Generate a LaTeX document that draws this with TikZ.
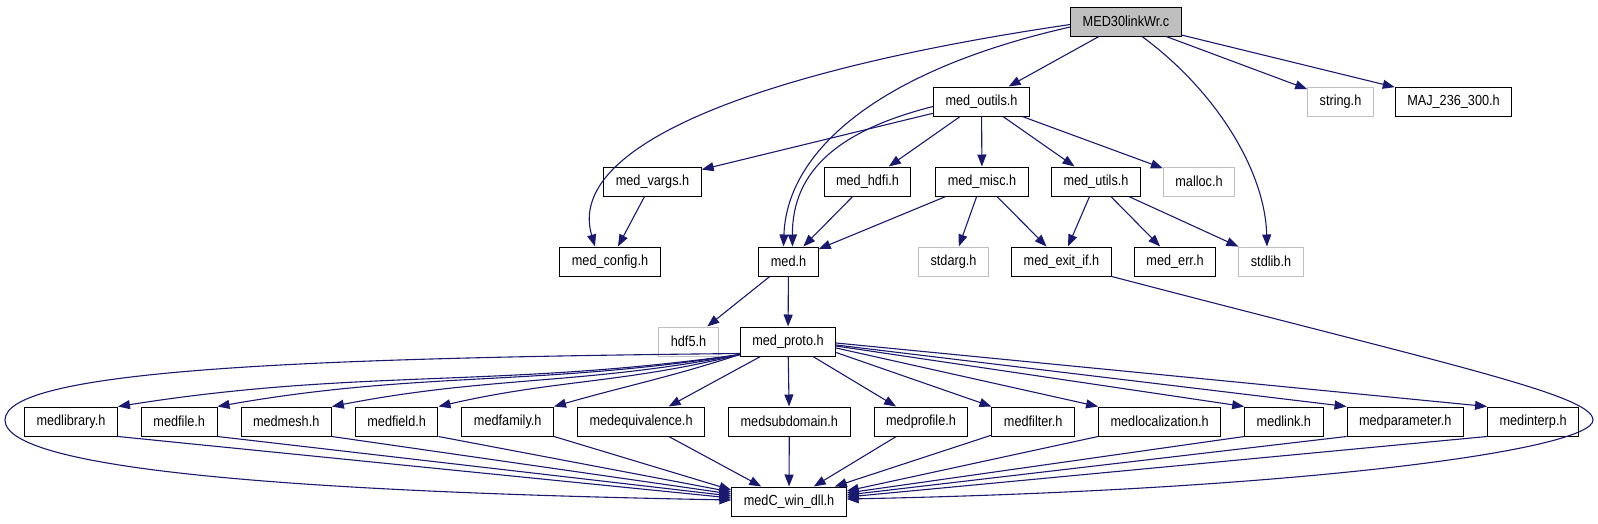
\documentclass[tikz,border=0pt]{standalone}
\usepackage{fontspec}
\setmainfont{Liberation Sans}[FakeStretch=0.87]
\usetikzlibrary{arrows.meta,positioning}
\definecolor{depazul}{RGB}{25,25,112}
\definecolor{sisgris}{RGB}{191,191,191}
\tikzset{
  hdr/.style={draw=black,line width=1pt,font=\fontsize{14.6}{16}\selectfont,
              inner xsep=12pt,inner ysep=0pt,minimum height=29pt},
  syshdr/.style={hdr,draw=sisgris},
  raiz/.style={hdr,fill=sisgris},
  dep/.style={-{Triangle[length=12pt,width=9pt]},line width=1.1pt,depazul},
}

\begin{document}
\begin{tikzpicture}[x=1pt,y=-1pt]
    \useasboundingbox (0,0) rectangle (1598,523);
    % upper levels
    \node[raiz] (wr) at (1126,21.5) {MED30linkWr.c};
    \node[hdr] (outils) at (981.5,101.5) {med\_outils.h};
    \node[syshdr] (string) at (1340.5,101.5) {string.h};
    \node[hdr] (maj) at (1453.5,101.5) {MAJ\_236\_300.h};
    \node[hdr] (vargs) at (652.5,181.5) {med\_vargs.h};
    \node[hdr] (hdfi) at (867.5,181.5) {med\_hdfi.h};
    \node[hdr] (misc) at (982,181.5) {med\_misc.h};
    \node[hdr] (utils) at (1096,181.5) {med\_utils.h};
    \node[syshdr] (malloc) at (1199,181.5) {malloc.h};
    \node[hdr] (config) at (610,261.5) {med\_config.h};
    \node[hdr] (med) at (788.5,261.5) {med.h};
    \node[syshdr] (stdarg) at (953.5,261.5) {stdarg.h};
    \node[hdr] (exitif) at (1061.5,261.5) {med\_exit\_if.h};
    \node[hdr] (err) at (1175,261.5) {med\_err.h};
    \node[syshdr] (stdlib) at (1271,261.5) {stdlib.h};
    \node[syshdr] (hdf) at (688.5,341.5) {hdf5.h};
    \node[hdr] (proto) at (788,341.5) {med\_proto.h};
    % row of med* headers
    \node[hdr] (library) at (71,421.5) {medlibrary.h};
    \node[hdr,right=23pt of library] (file) {medfile.h};
    \node[hdr,right=23pt of file] (mesh) {medmesh.h};
    \node[hdr,right=23pt of mesh] (field) {medfield.h};
    \node[hdr,right=23pt of field] (family) {medfamily.h};
    \node[hdr,right=23pt of family] (equivalence) {medequivalence.h};
    \node[hdr,right=23pt of equivalence] (subdomain) {medsubdomain.h};
    \node[hdr,right=23pt of subdomain] (profile) {medprofile.h};
    \node[hdr,right=23pt of profile] (filter) {medfilter.h};
    \node[hdr,right=23pt of filter] (localization) {medlocalization.h};
    \node[hdr,right=23pt of localization] (link) {medlink.h};
    \node[hdr,right=23pt of link] (parameter) {medparameter.h};
    \node[hdr,right=23pt of parameter] (interp) {medinterp.h};
    \node[hdr] (dll) at (789,501.5) {medC\_win\_dll.h};

    % includes
    \foreach \a/\b in {wr/outils,wr/string,wr/maj,outils/vargs,outils/hdfi,outils/misc,
                       outils/utils,outils/malloc,vargs/config,hdfi/med,misc/med,misc/stdarg,
                       misc/exitif,utils/exitif,utils/err,utils/stdlib,med/hdf,med/proto,
                       proto/subdomain,equivalence/dll,subdomain/dll,profile/dll,filter/dll}
      \draw[dep] (\a) -- (\b);
    \draw[dep] ([xshift=16pt]wr.south) .. controls (1215,90) and (1265,170) .. ([xshift=-4pt]stdlib.north);
    \draw[dep] ([yshift=-5.5pt]wr.west) .. controls (880,70) and (787,150) .. ([xshift=-5pt]med.north);
    \draw[dep] ([yshift=-3pt]wr.west) .. controls (760,70) and (565,145) .. ([xshift=-15pt]config.north);
    \draw[dep] ([yshift=-5pt]outils.west) .. controls (840,130) and (792,170) .. ([xshift=4pt]med.north);
    \draw[dep] (exitif.south east) .. controls (1450,365) and (1593,395) .. (1593,420)
               .. controls (1593,450) and (1300,490) .. ([yshift=2.5pt]dll.east);
    \draw[dep] ([yshift=3pt]proto.south west) .. controls (300,358) and (5,370) .. (5,420)
               .. controls (5,470) and (300,492) .. ([yshift=1.5pt]dll.west);
    \draw[dep] (proto) -- (equivalence);
    \draw[dep] (proto) -- (profile);
    \foreach \n/\o/\i in {library/188/9,file/189/10,mesh/191/11,field/194/13,family/198/16}
      \draw[dep] ([yshift=2pt]proto.south west) to[out=\o,in=\i] (\n.north east);
    \foreach \n/\s in {filter/11,localization/6.5,link/4.5,parameter/3.5,interp/1.5}
      \draw[dep] ([yshift=-\s pt]proto.east) -- (\n.north west);
    \foreach \n/\s in {library/3.5,file/5.5,mesh/7.5,field/9.5,family/11.5}
      \draw[dep] (\n.south east) -- ([yshift=\s pt]dll.west);
    \foreach \n/\s in {localization/10.5,link/8.5,parameter/6.5,interp/4.5}
      \draw[dep] (\n.south west) -- ([yshift=\s pt]dll.east);
\end{tikzpicture}
\end{document}
